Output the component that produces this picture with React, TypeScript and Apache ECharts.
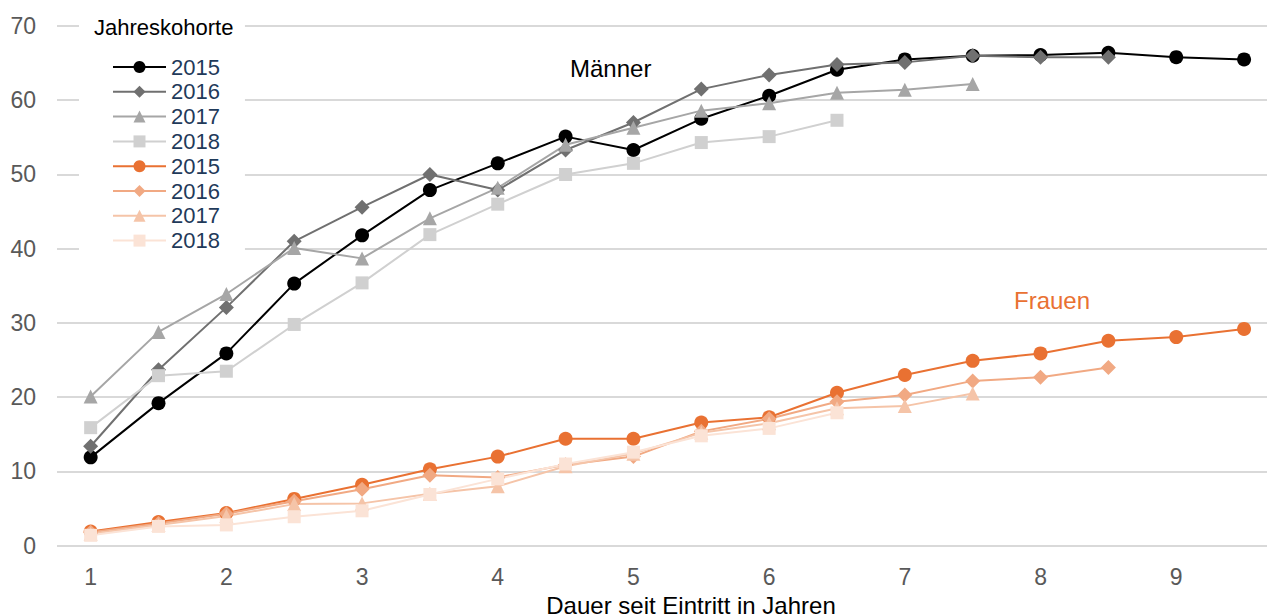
import { useEffect, useRef } from "react";
import * as echarts from "echarts";

const durations = [1, 1.5, 2, 2.5, 3, 3.5, 4, 4.5, 5, 5.5, 6, 6.5, 7, 7.5, 8, 8.5, 9, 9.5];
const xTickValues = [1, 2, 3, 4, 5, 6, 7, 8, 9];
const cohorts = ["2015", "2016", "2017", "2018"];

const maenner2015 = [11.9, 19.2, 25.9, 35.3, 41.8, 47.9, 51.5, 55.1, 53.3, 57.5, 60.6, 64.1, 65.5, 66.0, 66.1, 66.4, 65.8, 65.5];
const maenner2016 = [13.4, 23.7, 32.1, 41.0, 45.6, 50.0, 47.9, 53.3, 57.0, 61.5, 63.4, 64.8, 65.1, 66.0, 65.8, 65.8];
const maenner2017 = [20.1, 28.8, 33.9, 40.1, 38.7, 44.1, 48.2, 54.0, 56.3, 58.6, 59.6, 61.0, 61.4, 62.2];
const maenner2018 = [15.9, 22.9, 23.5, 29.8, 35.4, 41.9, 46.0, 50.0, 51.5, 54.3, 55.1, 57.3];

const frauen2015 = [1.9, 3.2, 4.4, 6.3, 8.2, 10.3, 12.0, 14.4, 14.4, 16.6, 17.3, 20.6, 23.0, 24.9, 25.9, 27.6, 28.1, 29.2];
const frauen2016 = [1.8, 3.0, 4.3, 6.0, 7.6, 9.5, 9.2, 10.9, 12.0, 15.4, 17.1, 19.4, 20.3, 22.2, 22.7, 24.0];
const frauen2017 = [1.6, 2.8, 4.0, 5.6, 5.7, 7.0, 8.0, 10.7, 12.4, 15.2, 16.5, 18.5, 18.8, 20.5];
const frauen2018 = [1.4, 2.6, 2.8, 3.9, 4.7, 6.9, 9.0, 11.0, 12.6, 14.8, 15.8, 17.9];

const maennerSeries = [maenner2015, maenner2016, maenner2017, maenner2018];
const frauenSeries = [frauen2015, frauen2016, frauen2017, frauen2018];

const maennerColors = ["#000000", "#707070", "#A6A6A6", "#D0D0D0"];
const frauenColors = ["#E97132", "#F1A983", "#F5C4A8", "#FBE3D6"];
const symbols = ["circle", "diamond", "triangle", "rect"];
const symbolSizes = [14, 15, 14, 13];

const FONT = "'Liberation Sans', Arial, sans-serif";

export default function App() {
  const ref = useRef<HTMLDivElement>(null);

  useEffect(() => {
    if (!ref.current) return;
    const chart = echarts.init(ref.current, null, { renderer: "svg" });

    const mk = (prefix: string, arrs: number[][], colors: string[]) =>
      arrs.map((arr, i) => ({
        name: prefix + cohorts[i],
        type: "line",
        data: arr.map((v, j) => [durations[j], v]),
        symbol: symbols[i],
        symbolSize: symbolSizes[i],
        showSymbol: true,
        lineStyle: { color: colors[i], width: 2 },
        itemStyle: { color: colors[i] },
        emphasis: { disabled: true },
      }));

    const series = [...mk("M", maennerSeries, maennerColors), ...mk("F", frauenSeries, frauenColors)];

    chart.setOption({
      animation: false,
      textStyle: { fontFamily: FONT },
      grid: { left: 57, right: 0, top: 26, bottom: 68.3, containLabel: false, outerBoundsMode: "none" },
      xAxis: {
        type: "value",
        min: 0.752,
        max: 9.669,
        name: "Dauer seit Eintritt in Jahren",
        nameLocation: "middle",
        nameGap: 40,
        nameTextStyle: { fontSize: 24, color: "#000000", fontFamily: FONT, padding: [0, 0, 0, 58] },
        axisLine: { show: false },
        axisTick: { show: false },
        splitLine: { show: false },
        axisLabel: {
          customValues: xTickValues,
          fontSize: 23,
          color: "#595959",
          margin: 20,
          fontFamily: FONT,
        },
      },
      yAxis: {
        type: "value",
        min: 0,
        max: 70,
        interval: 10,
        axisLine: { show: false },
        axisTick: { show: false },
        splitLine: { lineStyle: { color: "#D9D9D9", width: 2 } },
        axisLabel: { fontSize: 23, color: "#595959", margin: 21, fontFamily: FONT, padding: [6, 0, 0, 0] },
      },
      legend: {
        orient: "vertical",
        left: 79,
        top: 10,
        padding: [44.6, 25, 3, 33],
        backgroundColor: "#ffffff",
        itemWidth: 53,
        itemHeight: 15,
        itemGap: 0,
        selectedMode: false,
        formatter: (name: string) => name.slice(1),
        textStyle: { fontSize: 22, color: "#1F3A5A", lineHeight: 24.8, fontFamily: FONT },
        data: series.map((s) => s.name),
      },
      graphic: [
        {
          type: "text",
          z: 100,
          left: 94,
          top: 16,
          style: { text: "Jahreskohorte", fontSize: 22, fill: "#000000", fontFamily: FONT },
        },
        {
          type: "text",
          z: 100,
          left: 570,
          top: 56,
          style: { text: "Männer", fontSize: 24, fill: "#000000", fontFamily: FONT },
        },
        {
          type: "text",
          z: 100,
          left: 1014,
          top: 288,
          style: { text: "Frauen", fontSize: 24, fill: "#E97132", fontFamily: FONT },
        },
      ],
      series,
    });

    return () => chart.dispose();
  }, []);

  return (
    <div
      ref={ref}
      style={{ position: "absolute", left: 0, top: 0, width: 1267, height: 614 }}
    />
  );
}
